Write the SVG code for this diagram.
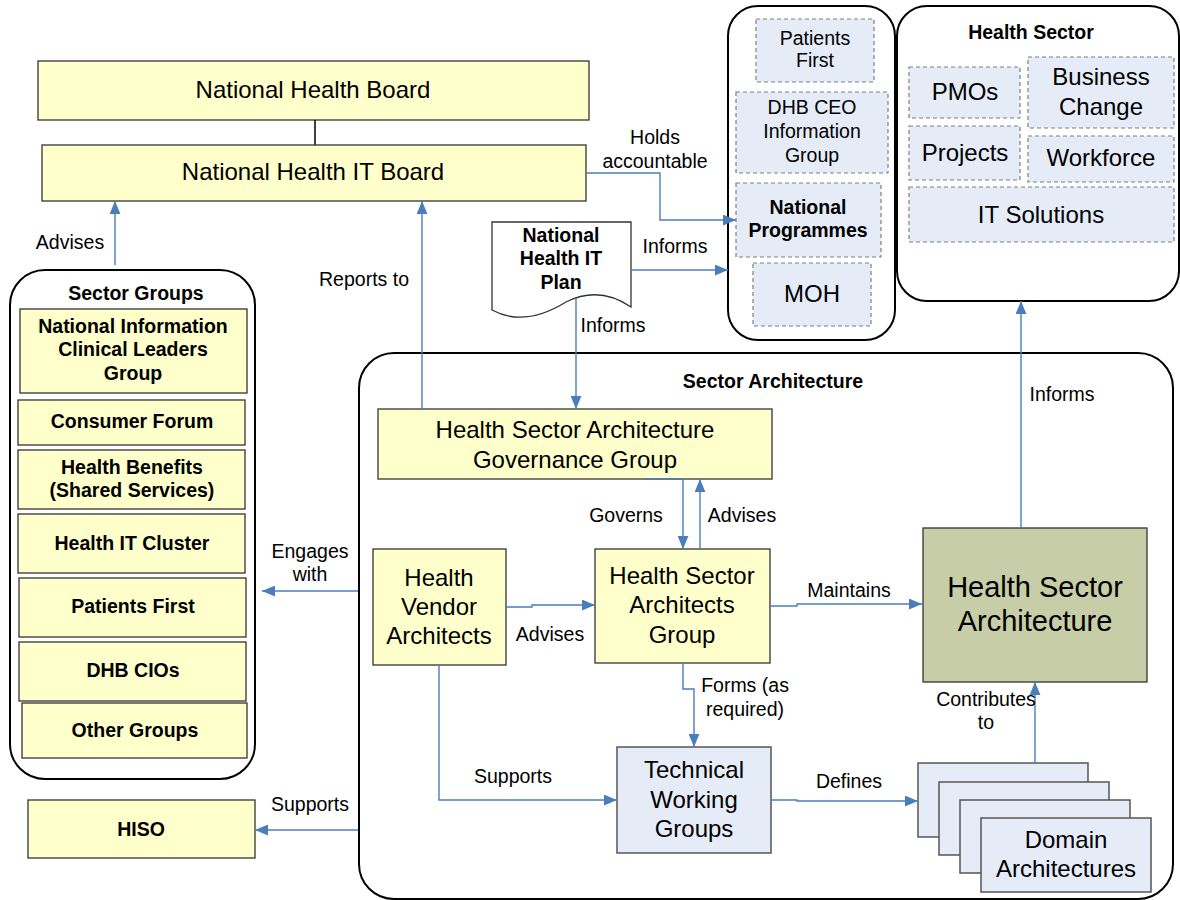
<svg xmlns="http://www.w3.org/2000/svg" width="1180" height="900" viewBox="0 0 1180 900">
  <style>
    text { font-family: "Liberation Sans", Arial, sans-serif; fill: #000; text-anchor: middle; }
    .big { font-size: 24px; }
    .lbl { font-size: 19.5px; }
    .b { font-size: 19.5px; font-weight: bold; }
    .yel { fill: #ffffcc; stroke: #333; stroke-width: 1.3; }
    .dash { fill: #e6ecf7; stroke: #7f7f7f; stroke-width: 1.2; stroke-dasharray: 4 3; }
    .blue { fill: #e6ecf7; stroke: #555; stroke-width: 1.5; }
    .cont { fill: none; stroke: #000; stroke-width: 2; }
    .con { fill: none; stroke: #4a7ebb; stroke-width: 1.4; }
    .arr { marker-end: url(#ah); }
  </style>
  <defs>
    <marker id="ah" viewBox="0 0 12 10" refX="12" refY="5" markerWidth="13" markerHeight="11" markerUnits="userSpaceOnUse" orient="auto">
      <path d="M0,0 L12,5 L0,10 z" fill="#4a7ebb"/>
    </marker>
  </defs>

  <rect width="1180" height="900" fill="#fff"/>

  <!-- containers -->
  <g id="sector-groups">
    <rect class="cont" x="10" y="270" width="245" height="509" rx="35"/>
    <text class="b" x="136" y="300">Sector Groups</text>
    <rect class="yel" x="20" y="309" width="227" height="84"/>
    <text class="b" x="133" y="333">National Information</text>
    <text class="b" x="133" y="356">Clinical Leaders</text>
    <text class="b" x="133" y="380">Group</text>
    <rect class="yel" x="18" y="400" width="227" height="45"/>
    <text class="b" x="132" y="428">Consumer Forum</text>
    <rect class="yel" x="18" y="450" width="227" height="59"/>
    <text class="b" x="132" y="474">Health Benefits</text>
    <text class="b" x="132" y="497">(Shared Services)</text>
    <rect class="yel" x="18" y="514" width="227" height="59"/>
    <text class="b" x="132" y="550">Health IT Cluster</text>
    <rect class="yel" x="19" y="578" width="227" height="59"/>
    <text class="b" x="133" y="613">Patients First</text>
    <rect class="yel" x="19" y="642" width="227" height="59"/>
    <text class="b" x="133" y="677">DHB CIOs</text>
    <rect class="yel" x="22" y="703" width="225" height="55"/>
    <text class="b" x="135" y="737">Other Groups</text>
  </g>

  <g id="programmes">
    <rect class="cont" x="728" y="6" width="167" height="334" rx="30"/>
    <rect class="dash" x="756" y="19" width="118" height="63"/>
    <text class="lbl" x="815" y="45">Patients</text>
    <text class="lbl" x="815" y="67">First</text>
    <rect class="dash" x="736" y="92" width="152" height="81"/>
    <text class="lbl" x="812" y="114">DHB CEO</text>
    <text class="lbl" x="812" y="138">Information</text>
    <text class="lbl" x="812" y="162">Group</text>
    <rect class="dash" x="736" y="183" width="145" height="74"/>
    <text class="b" x="808" y="214">National</text>
    <text class="b" x="808" y="237">Programmes</text>
    <rect class="dash" x="753" y="263" width="118" height="63"/>
    <text class="big" x="812" y="302">MOH</text>
  </g>

  <g id="health-sector">
    <rect class="cont" x="897" y="6" width="282" height="295" rx="30"/>
    <text class="b" x="1031" y="39">Health Sector</text>
    <rect class="dash" x="909" y="67" width="111" height="51"/>
    <text class="big" x="965" y="100">PMOs</text>
    <rect class="dash" x="1028" y="57" width="146" height="71"/>
    <text class="big" x="1101" y="85">Business</text>
    <text class="big" x="1101" y="115">Change</text>
    <rect class="dash" x="909" y="126" width="111" height="54"/>
    <text class="big" x="965" y="161">Projects</text>
    <rect class="dash" x="1028" y="136" width="146" height="46"/>
    <text class="big" x="1101" y="166">Workforce</text>
    <rect class="dash" x="909" y="187" width="265" height="55"/>
    <text class="big" x="1041" y="223">IT Solutions</text>
  </g>

  <g id="sector-architecture">
    <rect class="cont" x="359" y="353" width="814" height="546" rx="35"/>
    <text class="b" x="773" y="388">Sector Architecture</text>
  </g>

  <!-- nodes -->
  <g id="national-health-board">
    <rect class="yel" x="38" y="61" width="551" height="59"/>
    <text class="big" x="313" y="98">National Health Board</text>
  </g>
  <line x1="315" y1="120" x2="315" y2="145" stroke="#000" stroke-width="1.5"/>
  <g id="national-health-it-board">
    <rect class="yel" x="42" y="145" width="544" height="56"/>
    <text class="big" x="313" y="180">National Health IT Board</text>
  </g>

  <g id="it-plan">
    <path d="M492,222 H631 V307 C612,294 590,290 566,302 C540,318 514,322 492,310 Z" fill="#fff" stroke="#333" stroke-width="1.3"/>
    <text class="b" x="561" y="242">National</text>
    <text class="b" x="561" y="265">Health IT</text>
    <text class="b" x="561" y="289">Plan</text>
  </g>

  <g id="hiso">
    <rect class="yel" x="28" y="800" width="227" height="58"/>
    <text class="b" x="141" y="836">HISO</text>
  </g>

  <g id="governance-group">
    <rect class="yel" x="378" y="409" width="394" height="70"/>
    <text class="big" x="575" y="438">Health Sector Architecture</text>
    <text class="big" x="575" y="468">Governance Group</text>
  </g>

  <g id="vendor-architects">
    <rect class="yel" x="373" y="549" width="133" height="116"/>
    <text class="big" x="439" y="586">Health</text>
    <text class="big" x="439" y="615">Vendor</text>
    <text class="big" x="439" y="644">Architects</text>
  </g>

  <g id="architects-group">
    <rect class="yel" x="595" y="549" width="175" height="114"/>
    <text class="big" x="682" y="584">Health Sector</text>
    <text class="big" x="682" y="613">Architects</text>
    <text class="big" x="682" y="643">Group</text>
  </g>

  <g id="health-sector-architecture">
    <rect x="923" y="528" width="224" height="154" fill="#c6cda7" stroke="#333" stroke-width="1.3"/>
    <text x="1035" y="597" font-size="29">Health Sector</text>
    <text x="1035" y="631" font-size="29">Architecture</text>
  </g>

  <g id="working-groups">
    <rect class="blue" x="617" y="747" width="154" height="106"/>
    <text class="big" x="694" y="778">Technical</text>
    <text class="big" x="694" y="808">Working</text>
    <text class="big" x="694" y="837">Groups</text>
  </g>

  <g id="domain-architectures">
    <rect class="blue" x="918" y="763" width="170" height="74"/>
    <rect class="blue" x="939" y="782" width="170" height="73"/>
    <rect class="blue" x="960" y="800" width="170" height="73"/>
    <rect class="blue" x="981" y="818" width="170" height="74"/>
    <text class="big" x="1066" y="848">Domain</text>
    <text class="big" x="1066" y="877">Architectures</text>
  </g>

  <!-- connectors -->
  <g id="connectors">
    <path class="con arr" d="M115,265 V201"/>
    <path class="con arr" d="M422,409 V201"/>
    <path class="con arr" d="M586,173 H660 V220 H736"/>
    <path class="con arr" d="M631,270 H728"/>
    <path class="con arr" d="M576,298 V409"/>
    <path class="con arr" d="M645,479 H683 V549"/>
    <path class="con arr" d="M700,549 V479"/>
    <path class="con arr" d="M358,591 H262"/>
    <path class="con arr" d="M358,830 H255"/>
    <path class="con arr" d="M506,607 H532 V605 H595"/>
    <path class="con arr" d="M770,606 H797 V604 H922"/>
    <path class="con arr" d="M683,663 V689 H694 V747"/>
    <path class="con arr" d="M439,665 V800 H617"/>
    <path class="con arr" d="M771,800 H797 V801 H918"/>
    <path class="con arr" d="M1035,763 V682"/>
    <path class="con arr" d="M1021,528 V301"/>
  </g>

  <g id="connector-labels">
    <text class="lbl" x="70" y="249">Advises</text>
    <text class="lbl" x="364" y="286">Reports to</text>
    <text class="lbl" x="655" y="144">Holds</text>
    <text class="lbl" x="655" y="168">accountable</text>
    <text class="lbl" x="675" y="253">Informs</text>
    <text class="lbl" x="613" y="332">Informs</text>
    <text class="lbl" x="1062" y="401">Informs</text>
    <text class="lbl" x="626" y="522">Governs</text>
    <text class="lbl" x="742" y="522">Advises</text>
    <text class="lbl" x="310" y="558">Engages</text>
    <text class="lbl" x="310" y="581">with</text>
    <text class="lbl" x="550" y="641">Advises</text>
    <text class="lbl" x="849" y="597">Maintains</text>
    <text class="lbl" x="745" y="692">Forms (as</text>
    <text class="lbl" x="745" y="716">required)</text>
    <text class="lbl" x="986" y="706">Contributes</text>
    <text class="lbl" x="986" y="729">to</text>
    <text class="lbl" x="513" y="783">Supports</text>
    <text class="lbl" x="849" y="788">Defines</text>
    <text class="lbl" x="310" y="811">Supports</text>
  </g>
</svg>
